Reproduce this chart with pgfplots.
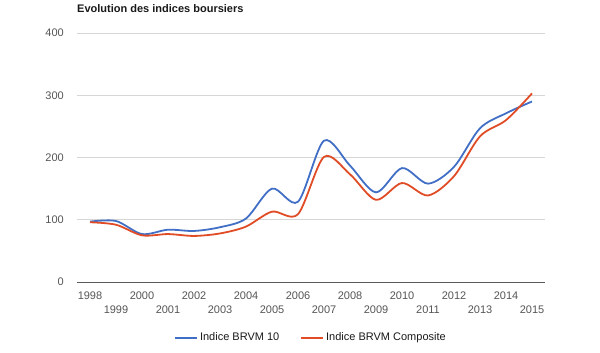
\documentclass[border=0pt]{standalone}
\usepackage{pgfplots}
\pgfplotsset{compat=1.18}
\usepackage{fontspec}
\setmainfont{Liberation Sans}
\definecolor{cblue}{RGB}{66,111,198}
\definecolor{cred}{RGB}{224,76,38}
\definecolor{cgrid}{RGB}{214,214,214}
\definecolor{caxis}{RGB}{90,90,90}
\definecolor{ctick}{RGB}{85,85,85}
\definecolor{ctitle}{RGB}{25,25,25}
\pgfplotstableread{
x year blue red
0 1998 97 96
1 1999 98 92
2 2000 77 75
3 2001 84 77
4 2002 82 74
5 2003 88 78
6 2004 102 89
7 2005 150 113
8 2006 129 109
9 2007 227 201
10 2008 187 173
11 2009 144 132
12 2010 183 159
13 2011 158 139
14 2012 185 170
15 2013 247 234
16 2014 271 260
17 2015 290 303
}\datatable
\begin{document}
\begin{tikzpicture}[x=1bp,y=1bp]
\path[use as bounding box] (0,0) rectangle (600,352);
\node[anchor=west, inner sep=0pt, text=ctitle, font=\fontsize{11bp}{13bp}\selectfont\bfseries] at (77,343) {Evolution des indices boursiers};
\begin{axis}[
  at={(77bp,70bp)}, anchor=south west,
  scale only axis, width=468bp, height=249bp,
  xmin=-0.5, xmax=17.5, ymin=0, ymax=400,
  axis line style={draw=none},
  major tick length=0pt,
  ytick={0,100,200,300,400},
  ymajorgrids, grid style={draw=cgrid, line width=0.8bp},
  extra y ticks={0}, extra y tick labels={},
  extra y tick style={grid style={draw=caxis, line width=1bp}},
  xtick={0,2,...,16},
  xticklabels={1998,2000,2002,2004,2006,2008,2010,2012,2014},
  extra x ticks={1,3,...,17},
  extra x tick labels={1999,2001,2003,2005,2007,2009,2011,2013,2015},
  extra x tick style={xticklabel style={yshift=-14.5bp}},
  tick label style={font=\fontsize{11bp}{13bp}\selectfont, text=ctick},
  xticklabel style={anchor=north, inner sep=0pt, yshift=-9.5bp},
  yticklabel style={anchor=east, inner sep=0pt, xshift=-13bp},
  /pgf/number format/assume math mode=true,
  legend columns=2,
  legend style={at={(0.5,-0.2237)}, anchor=center, draw=none, fill=none,
    font=\fontsize{11bp}{13bp}\selectfont, text=ctitle,
    /tikz/every even column/.append style={column sep=18bp},
    nodes={inner sep=2.5bp}},
  legend image code/.code={\draw[#1] (0bp,0bp) -- (22bp,0bp);},
  clip=false,
]
\addplot[cblue, line width=1.8bp, smooth, tension=0.5] table[x=x, y=blue] {\datatable};
\addlegendentry{Indice BRVM 10}
\addplot[cred, line width=1.8bp, smooth, tension=0.5] table[x=x, y=red] {\datatable};
\addlegendentry{Indice BRVM Composite}
\end{axis}
\end{tikzpicture}
\end{document}
